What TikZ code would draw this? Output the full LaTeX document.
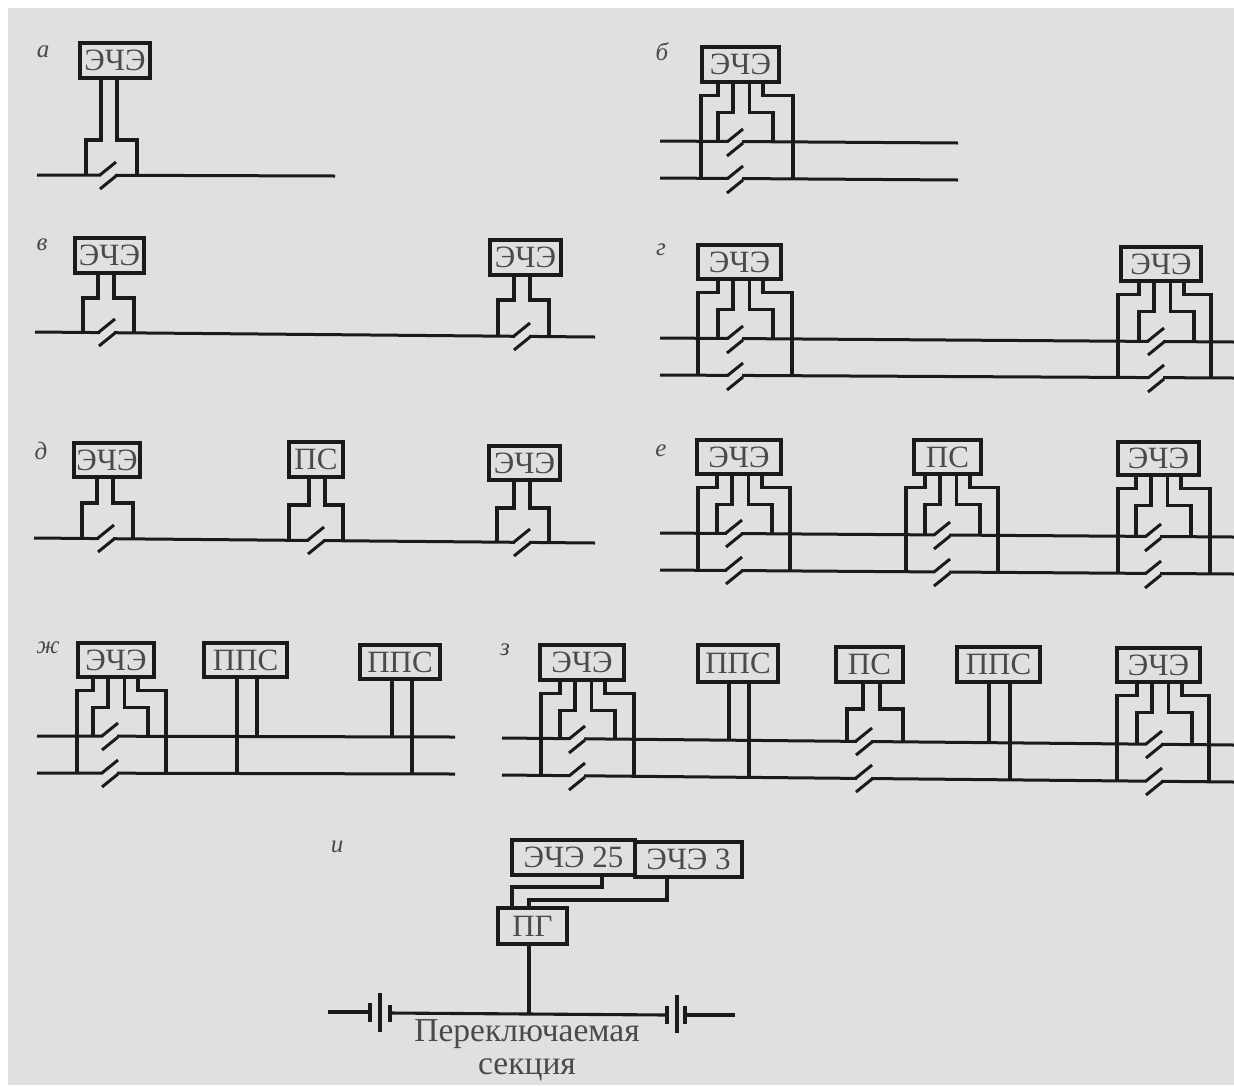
\documentclass[tikz,border=0pt]{standalone}
\usepackage{fontspec}
\setmainfont{Liberation Serif}
\usetikzlibrary{calc}
\definecolor{paper}{HTML}{E0E0E0}
\definecolor{ink}{HTML}{1A1A1A}
\definecolor{txt}{HTML}{4A4A4A}
\tikzset{
  wire/.style={draw=ink,line width=3.1pt,line join=miter},
  thinwire/.style={draw=ink,line width=3.1pt},
  unitbox/.style={draw=ink,line width=3.1pt,fill=paper,inner sep=0pt,text=txt,font=\fontsize{31}{31}\selectfont},
  tag/.style={inner sep=0pt,text=txt,font=\fontsize{25}{25}\selectfont\itshape},
  caption/.style={inner sep=0pt,text=txt,font=\fontsize{33.5}{33.5}\selectfont}
}
% box: name, left, top, right, bottom, text
\newcommand\ubox[6]{\node[unitbox,minimum width={(#4-#2)*1pt},minimum height={(#5-#3)*1pt}] (#1) at ({(#2+#4)/2},{(#3+#5)/2}) {#6};}
% bus: name, x0, y0, x1, y1
\newcommand\ubus[5]{\coordinate (#1-a) at (#2,#3);\coordinate (#1-b) at (#4,#5);\draw[wire,line width=3pt] (#1-a) -- (#1-b);}
% break: x, y
\newcommand\ubrk[2]{%
  \draw[paper,line width=5.5pt] ({#1+1},{#2}) -- ({#1+15},{#2});
  \draw[wire,line width=3pt] ({#1},{#2}) -- ({#1+16},{#2-13});
  \draw[wire,line width=3pt] ({#1},{#2+14}) -- ({#1+16},{#2+1});}
% single feeder: name, lead1, lead2, shoulderL, shoulderR, shoulder y, bus y, break x
\newcommand\usgl[8]{%
  \coordinate (#1-p) at (#2,#6);\coordinate (#1-q) at (#3,#6);
  \draw[wire] (#1-p |- #1.south) -- (#1-p) -- (#4,#6) -- (#4,#7);
  \draw[wire] (#1-q |- #1.south) -- (#1-q) -- (#5,#6) -- (#5,#7);
  \ubrk{#8}{#7}}
% double feeder: name, cx, outer L, outer R, y1, y2
\newcommand\udbl[6]{%
  \path (#1.south) ++(0,12) coordinate (#1-s1) ++(0,16.5) coordinate (#1-s2);
  \coordinate (#1-a) at ({#2-22},0);\coordinate (#1-b) at ({#2-7},0);
  \coordinate (#1-c) at ({#2+9.5},0);\coordinate (#1-d) at ({#2+23},0);
  \coordinate (#1-e) at ({#2+33},0);\coordinate (#1-ol) at (#3,#6);\coordinate (#1-or) at (#4,#6);
  \draw[wire] (#1-a |- #1.south) -- (#1-a |- #1-s1) -- (#1-ol |- #1-s1) -- (#1-ol);
  \draw[wire] (#1-b |- #1.south) -- (#1-b |- #1-s2) -- (#1-a |- #1-s2) -- ({#2-22},#5);
  \draw[wire] (#1-c |- #1.south) -- (#1-c |- #1-s2) -- (#1-e |- #1-s2) -- ({#2+33},#5);
  \draw[wire] (#1-d |- #1.south) -- (#1-d |- #1-s1) -- (#1-or |- #1-s1) -- (#1-or);
  \ubrk{#2-13}{#5}\ubrk{#2-13}{#6}}
\begin{document}
\begin{tikzpicture}[x=1pt,y=-1pt]
\useasboundingbox (0,0) rectangle (1234,1085);
\fill[white] (0,0) rectangle (1234,1085);
\fill[paper] (8,8) rectangle (1234,1085);

% a
\ubus{ba}{37}{175}{335}{176}
\ubox{ua}{80}{43}{150}{78}{ЭЧЭ}
\usgl{ua}{101}{117}{86}{137}{140}{175}{100}
\node[tag] (la) at (43,52) {а};

% b
\ubus{bb1}{660}{141}{958}{143}
\ubus{bb2}{660}{178}{958}{180}
\ubox{ub}{702}{47}{779}{82}{ЭЧЭ}
\udbl{ub}{740}{701}{793}{142}{179}
\node[tag] (lb) at (662,52) {б};

% v
\ubus{bv}{35}{332}{595}{337}
\ubox{uv1}{75}{238}{144}{273}{ЭЧЭ}
\usgl{uv1}{98}{114}{83}{134}{298}{332}{99}
\ubox{uv2}{490}{240}{561}{275}{ЭЧЭ}
\usgl{uv2}{514}{530}{498}{549}{300}{336}{514}
\node[tag] (lv) at (42,245) {в};

% g
\ubus{bg1}{660}{338}{1234}{342}
\ubus{bg2}{660}{375}{1234}{378}
\ubox{ug1}{698}{245}{781}{279}{ЭЧЭ}
\udbl{ug1}{740}{698}{792}{339}{376}
\ubox{ug2}{1121}{247}{1201}{281}{ЭЧЭ}
\udbl{ug2}{1161}{1118}{1211}{341}{378}
\node[tag] (lg) at (661,250) {г};

% d
\ubus{bd}{34}{538}{595}{543}
\ubox{ud1}{74}{443}{140}{477}{ЭЧЭ}
\usgl{ud1}{97}{113}{82}{133}{503}{538}{98}
\ubox{ud2}{289}{442}{343}{477}{ПС}
\usgl{ud2}{309}{325}{289}{343}{505}{540}{308}
\ubox{ud3}{489}{446}{560}{480}{ЭЧЭ}
\usgl{ud3}{514}{530}{497}{549}{508}{542}{514}
\node[tag] (ld) at (41,451) {д};

% e
\ubus{be1}{660}{533}{1234}{537}
\ubus{be2}{660}{570}{1234}{574}
\ubox{ue1}{697}{440}{781}{474}{ЭЧЭ}
\udbl{ue1}{739}{698}{790}{533}{570}
\ubox{ue2}{914}{440}{981}{474}{ПС}
\udbl{ue2}{947}{906}{998}{535}{572}
\ubox{ue3}{1118}{442}{1199}{475}{ЭЧЭ}
\udbl{ue3}{1158}{1118}{1210}{537}{574}
\node[tag] (le) at (661,451) {е};

% zh
\ubus{bz1}{37}{736}{455}{737}
\ubus{bz2}{37}{773}{455}{774}
\ubox{uz1}{78}{643}{154}{677}{ЭЧЭ}
\udbl{uz1}{115}{77}{166}{736}{773}
\ubox{uz2}{204}{643}{287}{677}{ППС}
\ubox{uz3}{360}{645}{440}{679}{ППС}
\coordinate (uz2-a) at (237,773);\coordinate (uz2-b) at (257,736);
\coordinate (uz3-a) at (392,736);\coordinate (uz3-b) at (412,774);
\draw[thinwire] (uz2-a |- uz2.south) -- (uz2-a);
\draw[thinwire] (uz2-b |- uz2.south) -- (uz2-b);
\draw[thinwire] (uz3-a |- uz3.south) -- (uz3-a);
\draw[thinwire] (uz3-b |- uz3.south) -- (uz3-b);
\node[tag] (lz) at (48,648) {ж};

% z
\ubus{bs1}{502}{738}{1234}{745}
\ubus{bs2}{502}{775}{1234}{782}
\ubox{us1}{540}{645}{624}{680}{ЭЧЭ}
\udbl{us1}{582}{541}{634}{739}{776}
\ubox{us2}{698}{645}{778}{682}{ППС}
\coordinate (us2-a) at (729,740);\coordinate (us2-b) at (749,777);
\draw[thinwire] (us2-a |- us2.south) -- (us2-a);
\draw[thinwire] (us2-b |- us2.south) -- (us2-b);
\ubox{us3}{836}{647}{903}{682}{ПС}
\usgl{us3}{863}{880}{847}{903}{709}{741}{856}
\ubrk{856}{778}
\ubox{us4}{957}{647}{1040}{682}{ППС}
\coordinate (us4-a) at (989,742);\coordinate (us4-b) at (1010,779);
\draw[thinwire] (us4-a |- us4.south) -- (us4-a);
\draw[thinwire] (us4-b |- us4.south) -- (us4-b);
\ubox{us5}{1117}{648}{1200}{682}{ЭЧЭ}
\udbl{us5}{1159}{1117}{1209}{744}{781}
\node[tag] (ls) at (505,650) {з};

% i
\ubox{ui1}{512}{840}{635}{875}{ЭЧЭ 25}
\ubox{ui2}{635}{842}{742}{877}{ЭЧЭ 3}
\ubox{ui3}{498}{908}{567}{944}{ПГ}
\coordinate (ui1-k) at (602,887);\coordinate (ui2-k) at (667,900);
\coordinate (ui3-a) at (512,908);\coordinate (ui3-b) at (529,908);
\draw[wire] (ui1-k |- ui1.south) -- (ui1-k) -- (ui3-a |- ui1-k) -- (ui3-a);
\draw[wire] (ui2-k |- ui2.south) -- (ui2-k) -- (ui3-b |- ui2-k) -- (ui3-b);
\coordinate (bi-m) at (529,1014);
\draw[wire] (ui3-b |- ui3.south) -- (bi-m);
\coordinate (bi-a) at (328,1012);\coordinate (bi-b) at (370,1012);
\coordinate (bi-c) at (390,1013);\coordinate (bi-d) at (667,1015);
\coordinate (bi-e) at (685,1015);\coordinate (bi-f) at (735,1015);
\draw[wire] (bi-a) -- (bi-b);
\draw[wire] (bi-c) -- (bi-d);
\draw[wire] (bi-e) -- (bi-f);
\draw[wire] (370,1003) -- (370,1022);
\draw[wire] (380,993) -- (380,1032);
\draw[wire] (390,1005) -- (390,1022);
\draw[wire] (667,1006) -- (667,1024);
\draw[wire] (677,995) -- (677,1033);
\draw[wire] (685,1006) -- (685,1024);
\node[tag] (li) at (337,847) {и};
\node[caption] (c1) at (527,1034) {Переключаемая};
\node[caption] (c2) at (527,1070) {секция};
\end{tikzpicture}
\end{document}
